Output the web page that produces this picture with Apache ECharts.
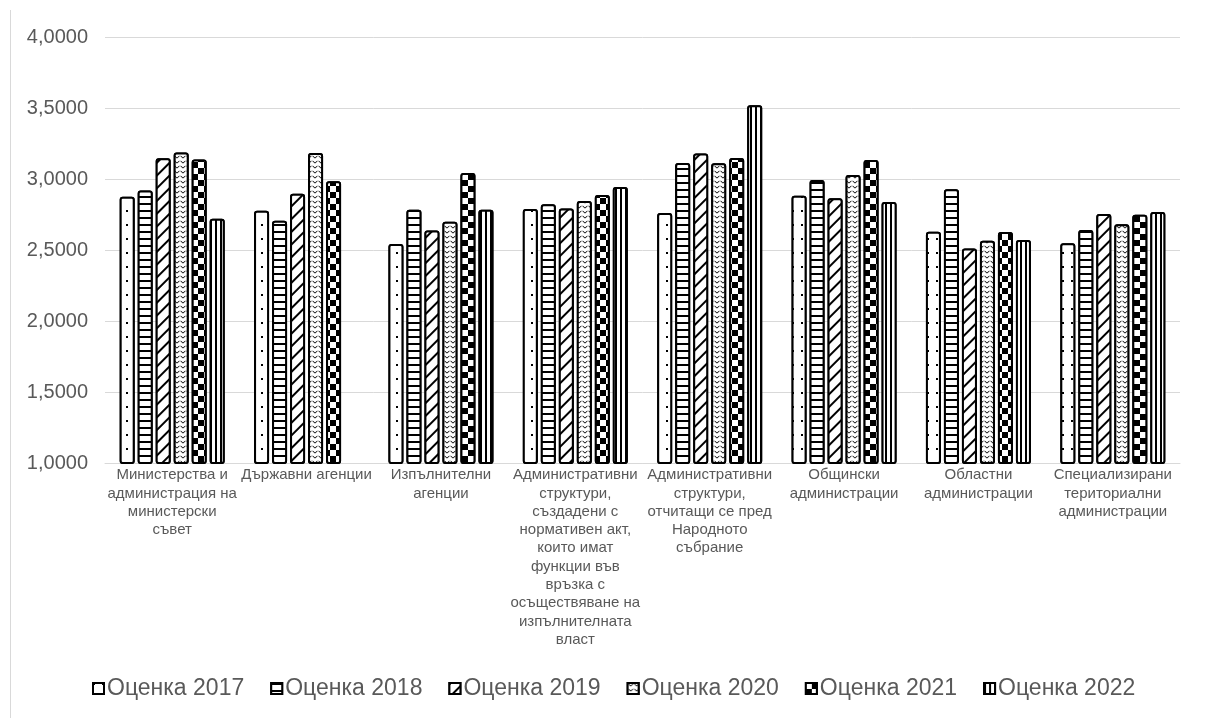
<!DOCTYPE html>
<html>
<head>
<meta charset="utf-8">
<script src="https://cdn.jsdelivr.net/npm/echarts@6/dist/echarts.min.js"></script>
<style>
  html, body { margin: 0; padding: 0; background: #fff; }
  #chart { width: 1206px; height: 718px; }
</style>
</head>
<body>
<div id="chart"></div>
<script>
// Administration types (axis labels, broken into lines as drawn)
const categories = [
  'Министерства и\nадминистрация на\nминистерски\nсъвет',
  'Държавни агенции',
  'Изпълнителни\nагенции',
  'Административни\nструктури,\nсъздадени с\nнормативен акт,\nкоито имат\nфункции във\nвръзка с\nосъществяване на\nизпълнителната\nвласт',
  'Административни\nструктури,\nотчитащи се пред\nНародното\nсъбрание',
  'Общински\nадминистрации',
  'Областни\nадминистрации',
  'Специализирани\nтериториални\nадминистрации'
];

const seriesNames = ['Оценка 2017', 'Оценка 2018', 'Оценка 2019', 'Оценка 2020', 'Оценка 2021', 'Оценка 2022'];

// Average scores per year
const score2017 = [2.878, 2.779, 2.544, 2.791, 2.762, 2.884, 2.631, 2.549];
const score2018 = [2.922, 2.708, 2.786, 2.824, 3.115, 2.995, 2.930, 2.642];
const score2019 = [3.148, 2.899, 2.640, 2.795, 3.183, 2.866, 2.513, 2.755];
const score2020 = [3.190, 3.186, 2.701, 2.847, 3.113, 3.030, 2.567, 2.683];
const score2021 = [3.139, 2.986, 3.045, 2.889, 3.151, 3.136, 2.628, 2.751];
const score2022 = [2.722, null, 2.786, 2.946, 3.522, 2.840, 2.572, 2.769];

const yTicks = { min: 1, max: 4, step: 0.5 };

const seriesData = [score2017, score2018, score2019, score2020, score2021, score2022];

// Black-and-white fill patterns, one per year
const decals = [
  { symbol: 'rect', symbolSize: 1, dashArrayX: [2, 7], dashArrayY: [2, 12] },
  { symbol: 'rect', symbolSize: 1, dashArrayX: [1, 0], dashArrayY: [2, 4.5] },
  { symbol: 'rect', symbolSize: 1, dashArrayX: [1, 0], dashArrayY: [2, 7], rotation: -Math.PI / 4 },
  { symbol: 'path://M0,0 L5,4 L10,0 L10,2 L5,6 L0,2 Z', symbolSize: 0.8, dashArrayX: [6, 0], dashArrayY: [4, 1] },
  { symbol: 'rect', symbolSize: 1, dashArrayX: [[6, 6], [0, 6, 6, 0]], dashArrayY: [6, 0] },
  { symbol: 'rect', symbolSize: 1, dashArrayX: [2, 2.5], dashArrayY: [1, 0] }
];

const chart = echarts.init(document.getElementById('chart'), null, { renderer: 'canvas' });

const series = seriesNames.map((name, i) => ({
  name,
  type: 'bar',
  data: seriesData[i],
  barWidth: 15,
  barGap: '20%',
  itemStyle: {
    color: '#ffffff',
    borderColor: '#000000',
    borderWidth: 2,
    borderRadius: 2,
    decal: Object.assign({ color: '#000000', backgroundColor: '#ffffff' }, decals[i])
  }
}));

chart.setOption({
  animation: false,
  backgroundColor: '#ffffff',
  aria: { enabled: false, decal: { show: false } },
  // thin frame line on the left edge of the chart area
  graphic: [{
    type: 'line',
    shape: { x1: 10.5, y1: 10, x2: 10.5, y2: 718 },
    style: { stroke: '#d9d9d9', lineWidth: 1 },
    silent: true
  }],
  grid: { left: 105, right: 26, top: 37.5, bottom: 255, containLabel: false },
  legend: {
    bottom: 13,
    left: 87,
    icon: 'rect',
    itemWidth: 11,
    itemHeight: 11,
    itemGap: 26,
    textStyle: { fontFamily: 'Liberation Sans', fontSize: 23, color: '#595959', padding: [0, 0, 0, -2] },
    data: seriesNames
  },
  xAxis: {
    type: 'category',
    data: categories,
    axisLine: { lineStyle: { color: '#d9d9d9', width: 1 } },
    axisTick: { show: false },
    axisLabel: {
      interval: 0,
      margin: 3,
      fontFamily: 'Liberation Sans',
      fontSize: 15,
      lineHeight: 18.3,
      color: '#595959',
      align: 'center',
      verticalAlign: 'top'
    }
  },
  yAxis: {
    type: 'value',
    min: yTicks.min,
    max: yTicks.max,
    interval: yTicks.step,
    axisLine: { show: false },
    axisTick: { show: false },
    splitLine: { lineStyle: { color: '#d9d9d9', width: 1 } },
    axisLabel: {
      margin: 17,
      fontFamily: 'Liberation Sans',
      fontSize: 20,
      color: '#595959',
      formatter: v => v.toFixed(4).replace('.', ',')
    }
  },
  series
});
</script>
</body>
</html>
